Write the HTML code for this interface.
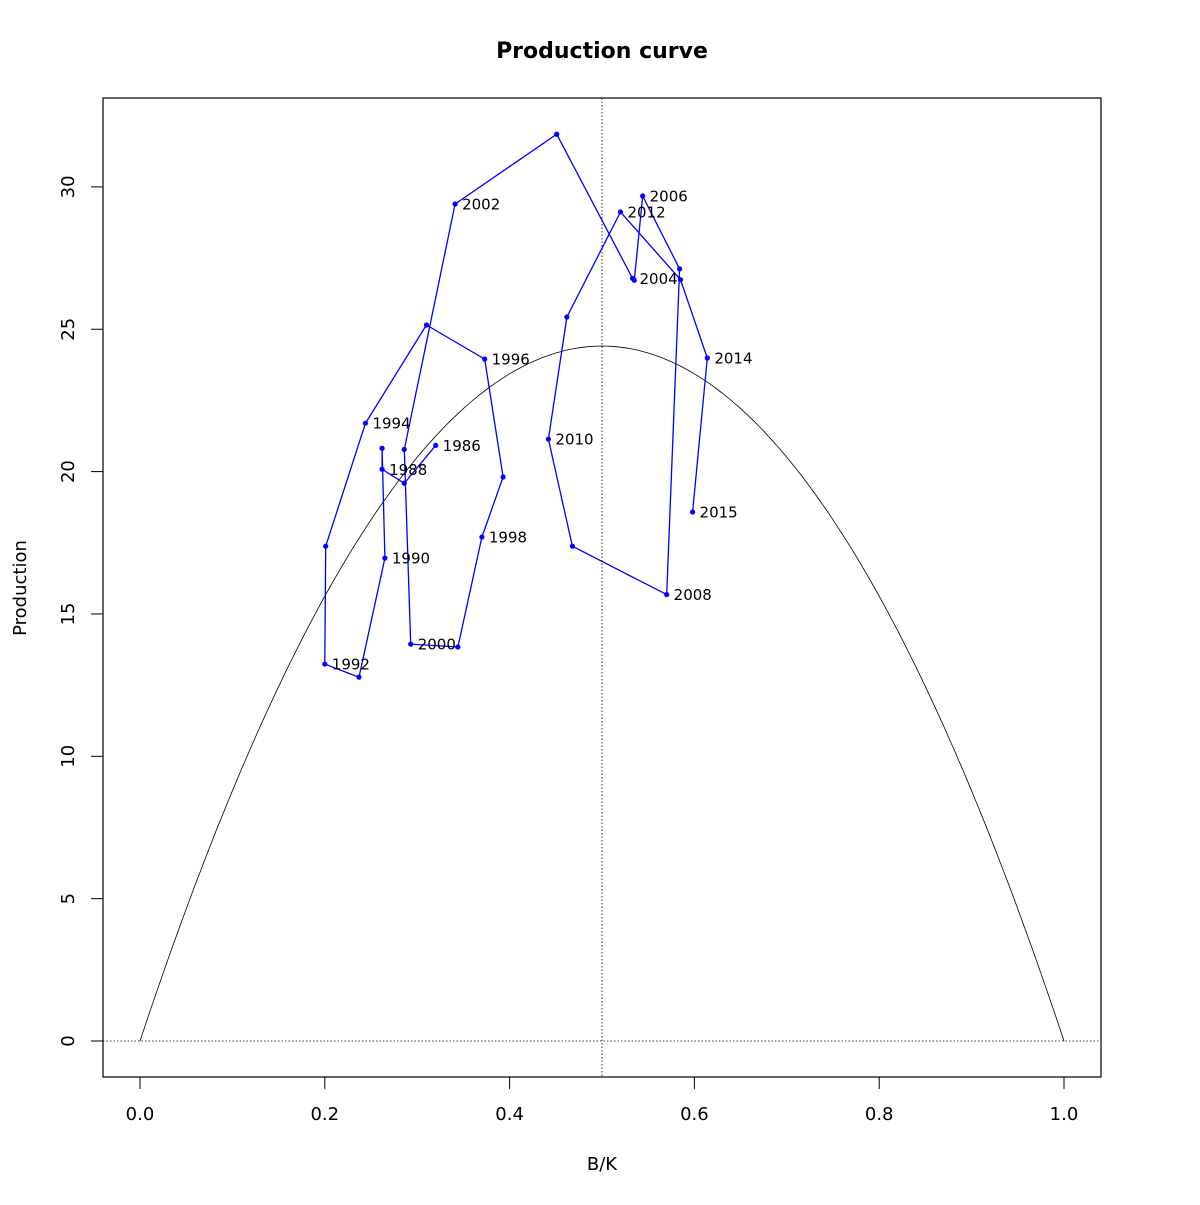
<!DOCTYPE html>
<html><head><meta charset="utf-8"><style>
body{margin:0;background:#fff}
svg text{font-family:"DejaVu Sans","Liberation Sans",sans-serif}
</style></head><body>
<svg id="chart" width="1200" height="1200" xmlns="http://www.w3.org/2000/svg">
<rect width="1200" height="1200" fill="#fff"/>
<text x="602" y="58" text-anchor="middle" font-size="22" font-weight="bold">Production curve</text>
<rect x="103" y="98" width="998" height="979" fill="none" stroke="#000" stroke-width="1.2"/>
<text x="602" y="1170" text-anchor="middle" font-size="18">B/K</text>
<text transform="translate(26,588) rotate(-90)" text-anchor="middle" font-size="18">Production</text>
<g id="axes"></g>
<g id="marks"></g>
</svg>
<script>
const years=[1986,1987,1988,1989,1990,1991,1992,1993,1994,1995,1996,1997,1998,1999,2000,2001,2002,2003,2004,2005,2006,2007,2008,2009,2010,2011,2012,2013,2014,2015];
const biomass=[0.320,0.286,0.262,0.262,0.265,0.237,0.200,0.201,0.244,0.310,0.373,0.393,0.370,0.344,0.293,0.286,0.341,0.451,0.533,0.535,0.544,0.584,0.570,0.468,0.442,0.462,0.520,0.585,0.614,0.598];
const production=[20.92,19.59,20.08,20.82,16.96,12.78,13.24,17.38,21.70,25.15,23.95,19.81,17.70,13.84,13.94,20.78,29.40,31.85,26.79,26.72,29.68,27.12,15.68,17.38,21.14,25.43,29.12,26.74,23.99,18.58];
const xTicks=[0,0.2,0.4,0.6,0.8,1.0];
const xTickLabels=["0.0","0.2","0.4","0.6","0.8","1.0"];
const yTicks=[0,5,10,15,20,25,30];
const yTickLabels=["0","5","10","15","20","25","30"];
const msy=24.41;
const NS="http://www.w3.org/2000/svg";
const X=v=>140+924*v, Y=v=>1041-28.47*v;
function mk(tag,attrs,parent){const e=document.createElementNS(NS,tag);for(const k in attrs)e.setAttribute(k,attrs[k]);parent.appendChild(e);return e;}
const ax=document.getElementById('axes'), mg=document.getElementById('marks');
xTicks.forEach((t,i)=>{
 const l=mk('line',{x1:X(t),x2:X(t),y1:1077,y2:1089,stroke:'#000'},ax);
 
 
 const tx=mk('text',{x:X(t),y:1120,'text-anchor':'middle','font-size':18},ax);
 tx.textContent=xTickLabels[i];
 
 
});
yTicks.forEach((t,i)=>{
 const l=mk('line',{x1:91,x2:103,y1:Y(t),y2:Y(t),stroke:'#000'},ax);
 
 
 const tx=mk('text',{transform:`translate(74,${Y(t)}) rotate(-90)`,'text-anchor':'middle','font-size':18},ax);
 tx.textContent=yTickLabels[i];
 
 
});
const h=mk('line',{x1:103,x2:1101,y1:Y(0),y2:Y(0),stroke:'#000','stroke-width':0.8,'stroke-dasharray':'1.5,2'},mg);


const v=mk('line',{x1:X(0.5),x2:X(0.5),y1:98,y2:1077,stroke:'#000','stroke-width':0.8,'stroke-dasharray':'1.5,2'},mg);


let d='';for(let i=0;i<=200;i++){const b=i/200;d+=(i?'L':'M')+X(b).toFixed(1)+','+Y(4*msy*b*(1-b)).toFixed(1);}
const c=mk('path',{d:d,fill:'none',stroke:'#000','stroke-width':0.8},mg);


const pts=years.map((y,i)=>X(biomass[i]).toFixed(1)+','+Y(production[i]).toFixed(1)).join(' ');
const pl=mk('polyline',{points:pts,fill:'none',stroke:'#0000ff','stroke-width':1.3},mg);


years.forEach((yr,i)=>{
 const p=mk('circle',{cx:X(biomass[i]),cy:Y(production[i]),r:2.6,fill:'#0000ff'},mg);
 
 
 if(yr%2===0||i===years.length-1){
  const t=mk('text',{x:X(biomass[i])+7,y:Y(production[i])+5.5,'font-size':15},mg);
  t.textContent=yr;
  
  
 }
});
</script>
</body></html>
